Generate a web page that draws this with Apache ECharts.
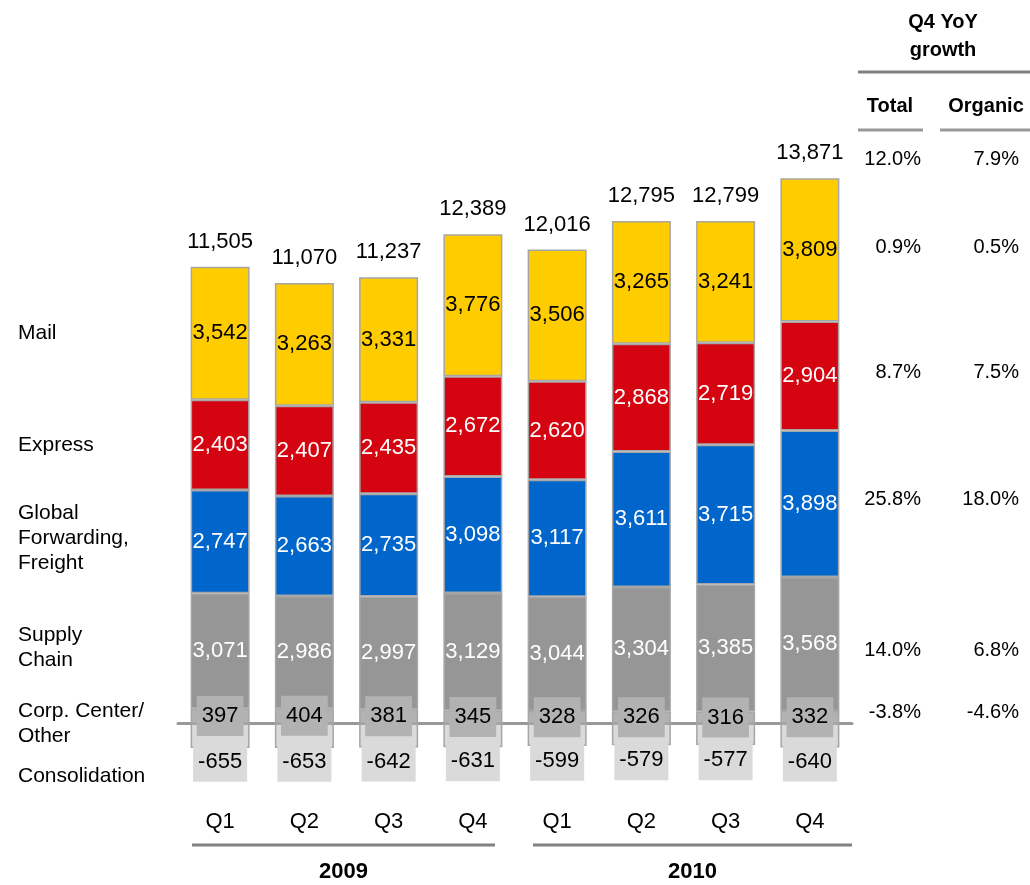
<!DOCTYPE html>
<html>
<head>
<meta charset="utf-8">
<style>
  html, body { margin: 0; padding: 0; background: #fff; }
  #chart { width: 1030px; height: 885px; }
</style>
<script src="https://cdn.jsdelivr.net/npm/echarts@6/dist/echarts.min.js"></script>
</head>
<body>
<div id="chart"></div>
<script>
const quarters = ['Q1', 'Q2', 'Q3', 'Q4', 'Q1', 'Q2', 'Q3', 'Q4']
const mail = [3542, 3263, 3331, 3776, 3506, 3265, 3241, 3809]
const express = [2403, 2407, 2435, 2672, 2620, 2868, 2719, 2904]
const globalForwarding = [2747, 2663, 2735, 3098, 3117, 3611, 3715, 3898]
const supplyChain = [3071, 2986, 2997, 3129, 3044, 3304, 3385, 3568]
const corpCenter = [397, 404, 381, 345, 328, 326, 316, 332]
const consolidation = [-655, -653, -642, -631, -599, -579, -577, -640]
const totals = [11505, 11070, 11237, 12389, 12016, 12795, 12799, 13871]

const years = ['2009', '2010']
const segmentNames = ['Mail', 'Express', 'Global\nForwarding,\nFreight', 'Supply\nChain', 'Corp. Center/\nOther', 'Consolidation']
const growthTotal = ['12.0%', '0.9%', '8.7%', '25.8%', '14.0%', '-3.8%']
const growthOrganic = ['7.9%', '0.5%', '7.5%', '18.0%', '6.8%', '-4.6%']

const FONT = '"Liberation Sans", Arial, sans-serif'
const fmt = v => v.toLocaleString('en-US')
const BORDER = '#a6a6a6'

function segment(name, data, color, labelColor, extra) {
  return Object.assign({
    name,
    type: 'bar',
    stack: 'total',
    barWidth: 59,
    zlevel: 1,
    data,
    itemStyle: { color, borderColor: BORDER, borderWidth: 1.5 },
    label: {
      show: true,
      position: 'inside',
      color: labelColor,
      fontSize: 22,
      fontFamily: FONT,
      formatter: p => fmt(p.value),
    },
  }, extra || {})
}

const series = [
  segment('Corp. Center/Other', corpCenter, '#b2b2b2', '#000', {
    label: {
      show: true, position: 'inside', color: '#000', fontSize: 22, fontFamily: FONT,
      backgroundColor: '#b2b2b2', padding: [10, 5, 8, 5],
      formatter: p => fmt(p.value),
    },
  }),
  segment('Supply Chain', supplyChain, '#969696', '#fff'),
  segment('Global Forwarding, Freight', globalForwarding, '#0066cc', '#fff'),
  segment('Express', express, '#d40511', '#fff'),
  segment('Mail', mail, '#ffcc00', '#000'),
  {
    name: 'Total',
    type: 'bar',
    stack: 'total',
    barWidth: 59,
    zlevel: 1,
    data: totals.map(() => 0),
    itemStyle: { color: 'transparent', borderWidth: 0 },
    label: {
      show: true, position: 'top', distance: 14, color: '#000', fontSize: 22, fontFamily: FONT,
      formatter: p => fmt(totals[p.dataIndex]),
    },
  },
  segment('Consolidation', consolidation, '#dadada', '#000', {
    label: {
      show: true, position: 'inside', offset: [0, 26], color: '#000', fontSize: 22, fontFamily: FONT,
      backgroundColor: '#dadada', padding: [10, 5, 8, 5],
      formatter: p => fmt(p.value),
    },
  }),
]

// left-hand segment names
const nameY = [333, 445, 538, 648, 724, 776]
const graphics = segmentNames.map((n, i) => ({
  type: 'text', left: 18, top: nameY[i] - (n.split('\n').length * 25) / 2,
  style: { text: n, font: '21px ' + FONT, fill: '#000', lineHeight: 25 },
}))

// right-hand growth table
const rowY = [159, 247, 372, 499, 650, 712]
graphics.push(
  { type: 'text', x: 943, y: 36, style: { text: 'Q4 YoY\ngrowth', font: 'bold 20px ' + FONT, fill: '#000', align: 'center', verticalAlign: 'middle', lineHeight: 28 } },
  { type: 'line', shape: { x1: 858, y1: 72, x2: 1030, y2: 72 }, style: { stroke: '#808080', lineWidth: 3 } },
  { type: 'text', x: 890, y: 106, style: { text: 'Total', font: 'bold 20px ' + FONT, fill: '#000', align: 'center', verticalAlign: 'middle' } },
  { type: 'text', x: 986, y: 106, style: { text: 'Organic', font: 'bold 20px ' + FONT, fill: '#000', align: 'center', verticalAlign: 'middle' } },
  { type: 'line', shape: { x1: 858, y1: 130, x2: 923, y2: 130 }, style: { stroke: '#999', lineWidth: 3 } },
  { type: 'line', shape: { x1: 940, y1: 130, x2: 1030, y2: 130 }, style: { stroke: '#999', lineWidth: 3 } }
)
growthTotal.forEach((t, i) => {
  graphics.push({ type: 'text', x: 921, y: rowY[i], style: { text: t, font: '20px ' + FONT, fill: '#000', align: 'right', verticalAlign: 'middle' } })
  graphics.push({ type: 'text', x: 1019, y: rowY[i], style: { text: growthOrganic[i], font: '20px ' + FONT, fill: '#000', align: 'right', verticalAlign: 'middle' } })
})

// year brackets
const yearSpan = [[192, 495], [533, 852]]
years.forEach((y, i) => {
  const [a, b] = yearSpan[i]
  graphics.push({ type: 'line', shape: { x1: a, y1: 845, x2: b, y2: 845 }, style: { stroke: '#808080', lineWidth: 3 } })
  graphics.push({ type: 'text', x: (a + b) / 2, y: 872, style: { text: y, font: 'bold 22px ' + FONT, fill: '#000', align: 'center', verticalAlign: 'middle' } })
})

const chart = echarts.init(document.getElementById('chart'))
chart.setOption({
  animation: false,
  grid: { left: 178, width: 674, top: 160, height: 601 },
  xAxis: {
    type: 'category',
    data: quarters,
    zlevel: 0,
    axisLine: { onZero: true, lineStyle: { color: '#999', width: 3 } },
    axisTick: { show: false },
    axisLabel: { margin: 50, fontSize: 22, color: '#000', fontFamily: FONT },
  },
  yAxis: {
    type: 'value', min: -1000, max: 15000, show: false,
    splitLine: { show: false },
  },
  series,
  graphic: graphics,
})
</script>
</body>
</html>
